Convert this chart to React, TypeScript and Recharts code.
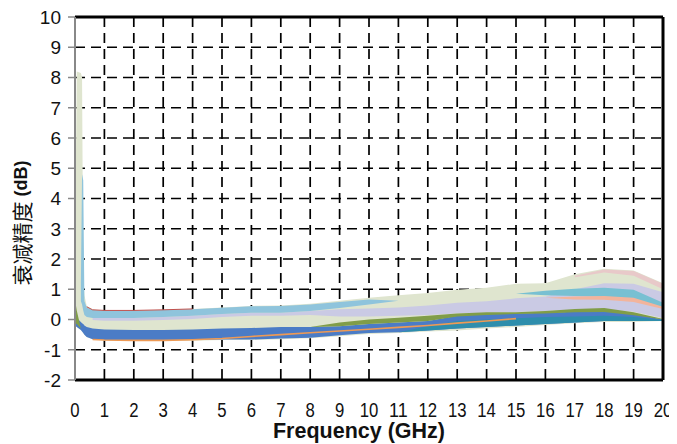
import React from 'react'
import {
  ComposedChart,
  Area,
  Line,
  XAxis,
  YAxis,
  CartesianGrid,
  ReferenceLine,
} from 'recharts'

// frequency points (GHz)
const freq = [0, 0.06, 0.2, 0.24, 0.28, 0.32, 0.4, 0.6, 1, 2, 3, 4, 5, 6, 7, 8, 9, 10, 11, 12, 13, 14, 15, 16, 17, 18, 19, 20]

const xTicks = [0, 1, 2, 3, 4, 5, 6, 7, 8, 9, 10, 11, 12, 13, 14, 15, 16, 17, 18, 19, 20]
const yTicks = [-2, -1, 0, 1, 2, 3, 4, 5, 6, 7, 8, 9, 10]

// overall spread of all traces (pale green)
const envLo = [-0.2, -0.25, -0.35, -0.4, -0.45, -0.5, -0.58, -0.65, -0.7, -0.7, -0.7, -0.7, -0.68, -0.68, -0.65, -0.62, -0.55, -0.48, -0.45, -0.4, -0.36, -0.3, -0.25, -0.18, -0.12, -0.08, -0.08, -0.05]
const envHi = [2.0, 8.2, 8.15, 8.0, 1.4, 0.8, 0.45, 0.33, 0.3, 0.3, 0.32, 0.35, 0.4, 0.45, 0.46, 0.52, 0.62, 0.72, 0.8, 0.88, 0.98, 1.05, 1.18, 1.2, 1.5, 1.68, 1.62, 1.2]

// lavender traces
const lavLo = [null, null, null, null, null, null, null, -0.02, -0.04, -0.04, -0.02, 0.02, 0.08, 0.12, 0.12, 0.15, 0.1, 0.1, 0.12, 0.15, 0.2, 0.22, 0.25, 0.28, 0.32, 0.32, 0.26, 0.05]
const lavHi = [null, null, null, null, null, null, null, 0.05, 0.05, 0.05, 0.08, 0.12, 0.18, 0.22, 0.22, 0.28, 0.34, 0.36, 0.4, 0.46, 0.55, 0.6, 0.7, 0.76, 1.0, 1.2, 1.18, 0.9]

// light blue traces (upper early band)
const ltbLo = [null, null, 0.6, 0.5, 0.3, 0.15, 0.08, 0.05, 0.05, 0.05, 0.08, 0.12, 0.18, 0.22, 0.22, 0.28, 0.38, 0.5, 0.62, null, null, null, null, null, null, null, null, null]
const ltbHi = [null, null, 1.2, 4.8, 4.6, 0.6, 0.4, 0.31, 0.29, 0.29, 0.31, 0.34, 0.39, 0.44, 0.45, 0.5, 0.58, 0.66, 0.62, null, null, null, null, null, null, null, null, null]

// pink traces at the top right
const pinkLo = [null, null, null, null, null, null, null, null, null, null, null, null, null, null, null, null, null, null, null, null, null, null, null, null, 1.4, 1.55, 1.45, 1.0]
const pinkHi = [null, null, null, null, null, null, null, null, null, null, null, null, null, null, null, null, null, null, null, null, null, null, null, null, 1.45, 1.65, 1.6, 1.18]

// cyan and salmon traces around 1 dB at high frequency
const cyanLo = [null, null, null, null, null, null, null, null, null, null, null, null, null, null, null, null, null, null, null, null, null, null, 0.85, 0.8, 0.78, 0.75, 0.68, 0.4]
const cyanHi = [null, null, null, null, null, null, null, null, null, null, null, null, null, null, null, null, null, null, null, null, null, null, 0.85, 0.95, 1.02, 1.05, 0.98, 0.55]
const salmonLo = [null, null, null, null, null, null, null, null, null, null, null, null, null, null, null, null, null, null, null, null, null, null, null, 0.72, 0.66, 0.65, 0.58, 0.35]
const salmonHi = [null, null, null, null, null, null, null, null, null, null, null, null, null, null, null, null, null, null, null, null, null, null, null, 0.72, 0.76, 0.78, 0.72, 0.42]

// dark blue traces (lower band)
const blueLo = [-0.2, -0.25, -0.35, -0.4, -0.45, -0.5, -0.58, -0.65, -0.68, -0.68, -0.68, -0.68, -0.66, -0.66, -0.63, -0.6, -0.52, -0.45, -0.42, -0.36, -0.3, -0.25, -0.2, -0.15, -0.1, -0.05, -0.05, -0.05]
const blueHi = [0.15, 0.05, -0.08, -0.12, -0.15, -0.2, -0.25, -0.3, -0.33, -0.35, -0.35, -0.33, -0.3, -0.28, -0.25, -0.25, -0.22, -0.15, -0.1, -0.05, 0.12, 0.18, 0.2, 0.22, 0.26, 0.27, 0.18, 0.0]

// olive traces
const oliveLo = [-0.1, -0.15, -0.3, null, null, null, null, null, null, null, null, null, null, null, null, -0.25, -0.22, -0.15, -0.1, -0.05, 0.1, 0.15, 0.18, 0.2, 0.24, 0.25, 0.14, 0.0]
const oliveHi = [0.65, 0.3, -0.3, null, null, null, null, null, null, null, null, null, null, null, null, -0.25, -0.1, 0.0, 0.06, 0.12, 0.2, 0.24, 0.24, 0.28, 0.35, 0.38, 0.24, 0.02]

// teal traces (bottom, high frequency)
const tealLo = [null, null, null, null, null, null, null, null, null, null, null, null, null, null, null, null, null, null, -0.42, -0.36, -0.3, -0.25, -0.2, -0.15, -0.1, -0.05, -0.05, -0.05]
const tealHi = [null, null, null, null, null, null, null, null, null, null, null, null, null, null, null, null, null, null, -0.42, -0.22, -0.05, 0.0, 0.04, 0.08, 0.1, 0.12, 0.08, -0.02]

// single traces drawn as lines
const redTrace = [null, null, null, null, null, null, 0.42, 0.32, 0.3, 0.3, 0.32, 0.35, null, null, null, null, null, null, null, null, null, null, null, null, null, null, null, null]
const orangeTrace = [null, null, null, null, null, null, null, -0.66, -0.68, -0.69, -0.69, -0.67, -0.63, -0.56, -0.5, -0.44, -0.38, -0.32, -0.26, -0.2, -0.12, -0.05, 0.03, null, null, null, null, null]

const pair = (lo: (number | null)[], hi: (number | null)[], i: number) =>
  lo[i] == null || hi[i] == null ? null : [lo[i], hi[i]]

const data = freq.map((f, i) => ({
  f,
  env: pair(envLo, envHi, i),
  lav: pair(lavLo, lavHi, i),
  ltb: pair(ltbLo, ltbHi, i),
  pink: pair(pinkLo, pinkHi, i),
  cyan: pair(cyanLo, cyanHi, i),
  salmon: pair(salmonLo, salmonHi, i),
  blue: pair(blueLo, blueHi, i),
  olive: pair(oliveLo, oliveHi, i),
  teal: pair(tealLo, tealHi, i),
  red: redTrace[i],
  orange: orangeTrace[i],
}))

const bands: [string, string][] = [
  ['env', '#dfe5cf'],
  ['lav', '#cacae4'],
  ['pink', '#e8c9c9'],
  ['ltb', '#8fc4dc'],
  ['cyan', '#78c0d2'],
  ['salmon', '#f2b49c'],
  ['blue', '#4b7cc6'],
  ['olive', '#809d48'],
  ['teal', '#2e8eac'],
]

const FONT = '"Liberation Sans", Arial, sans-serif'

function XTick({ x, y, payload }: any) {
  const s = String(payload.value)
  return (
    <text
      x={x}
      y={y + 35}
      textAnchor="middle"
      fontFamily={FONT}
      fontSize={20}
      fill="#111"
      textLength={s.length * 9.3}
      lengthAdjust="spacingAndGlyphs"
    >
      {s}
    </text>
  )
}

function YTick({ x, y, payload }: any) {
  return (
    <text x={x} y={y} dy="0.36em" textAnchor="end" fontFamily={FONT} fontSize={19} fill="#111">
      {payload.value}
    </text>
  )
}

export default function App() {
  return (
    <div style={{ width: 669, height: 436 }}>
      <ComposedChart
        width={669}
        height={436}
        data={data}
        margin={{ top: 9, right: 14, bottom: 0, left: 0 }}
      >
        <CartesianGrid
          stroke="#000"
          strokeWidth={1.7}
          strokeDasharray="10 6"
          verticalValues={xTicks.slice(1, -1)}
          horizontalValues={yTicks.slice(1, -1)}
        />
        <XAxis
          dataKey="f"
          type="number"
          domain={[0, 20]}
          ticks={xTicks}
          interval={0}
          height={64}
          tickLine={false}
          tickSize={0}
          tick={<XTick />}
          axisLine={{ stroke: '#000', strokeWidth: 3 }}
          label={({ viewBox }: any) => (
            <text
              x={viewBox.x + viewBox.width / 2 - 10}
              y={viewBox.y + 58}
              textAnchor="middle"
              fontFamily={FONT}
              fontWeight="bold"
              fontSize={21.5}
              fill="#111"
            >
              Frequency (GHz)
            </text>
          )}
        />
        <YAxis
          type="number"
          domain={[-2, 10]}
          ticks={yTicks}
          interval={0}
          width={67}
          allowDataOverflow
          tickSize={7}
          tickMargin={7}
          tickLine={{ stroke: '#888', strokeWidth: 1.5 }}
          axisLine={{ stroke: '#888', strokeWidth: 2 }}
          tick={<YTick />}
          label={() => (
            <text
              transform="translate(13,215) rotate(-90)"
              textAnchor="middle"
              dominantBaseline="central"
              fill="#111"
            >
              <tspan fontFamily='"Noto Sans CJK SC", sans-serif' fontSize={21}>
                衰减精度
              </tspan>
              <tspan fontFamily={FONT} fontWeight="bold" fontSize={18}>
                {' (dB)'}
              </tspan>
            </text>
          )}
        />
        {bands.map(([key, color]) => (
          <Area
            key={key}
            type="linear"
            dataKey={key}
            stroke="none"
            fill={color}
            fillOpacity={1}
            dot={false}
            activeDot={false}
            isAnimationActive={false}
          />
        ))}
        <Line
          type="linear"
          dataKey="red"
          stroke="#c0504d"
          strokeWidth={1}
          dot={false}
          activeDot={false}
          isAnimationActive={false}
        />
        <Line
          type="linear"
          dataKey="orange"
          stroke="#ee9a55"
          strokeWidth={1.6}
          dot={false}
          activeDot={false}
          isAnimationActive={false}
        />
        <ReferenceLine y={10} stroke="#000" strokeWidth={3} />
        <ReferenceLine x={20} stroke="#000" strokeWidth={3} />
      </ComposedChart>
    </div>
  )
}
